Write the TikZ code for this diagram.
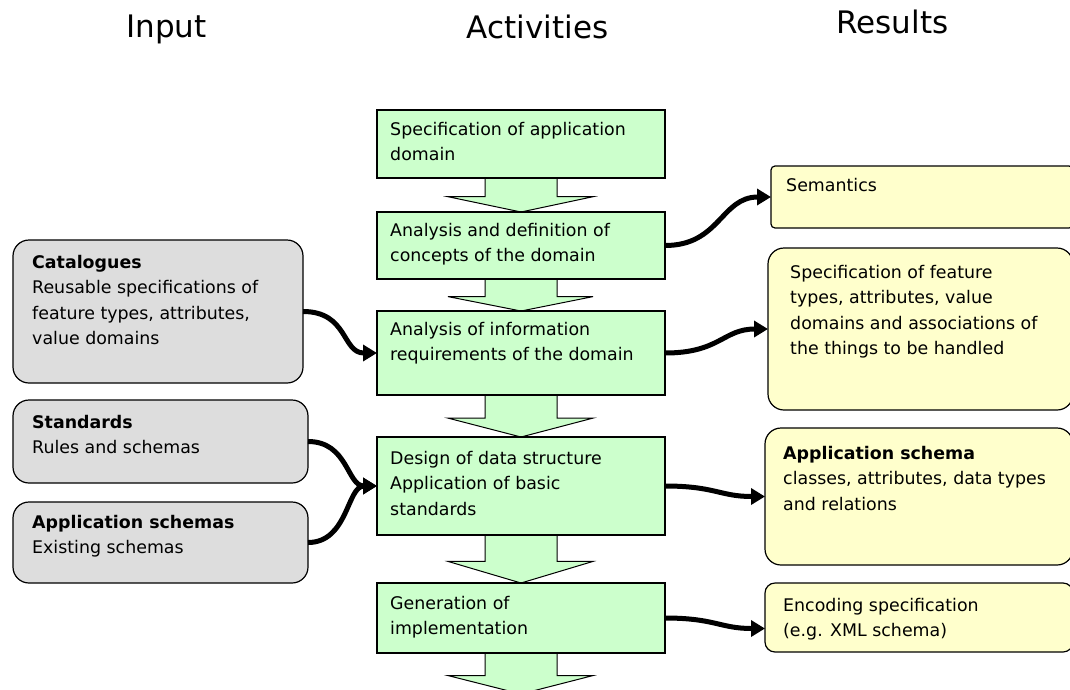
\documentclass[tikz,border=0pt]{standalone}
\usepackage{fontspec}
\setmainfont{DejaVu Sans}
\usetikzlibrary{arrows.meta,calc}
\definecolor{actgreen}{HTML}{CCFFCC}
\definecolor{ingray}{HTML}{DDDDDD}
\definecolor{resyellow}{HTML}{FFFFCC}
\pgfdeclarelayer{bg}
\pgfsetlayers{bg,main}
\tikzset{
  boxbase/.style={draw=black, line width=1.2pt, anchor=north west, inner sep=0pt, outer sep=0pt},
  actbox/.style={boxbase, fill=actgreen, minimum width=288pt},
  inbox/.style={boxbase, fill=ingray, rounded corners=16pt},
  resbox/.style={boxbase, fill=resyellow, rounded corners=16pt},
  txt/.style={anchor=north west, inner sep=0pt, align=left, font=\fontsize{17.4}{25.5}\selectfont},
  hdr/.style={anchor=base, inner sep=0pt, font=\fontsize{31}{36}\selectfont},
  flow/.style={line width=5pt, -{Triangle[length=14pt,width=16pt]}},
  barrow/.style={draw=black, line width=1pt, fill=actgreen, line join=miter},
}
\newcommand\blockarr[2]{%
  \path[barrow] let \p1=(#1.south), \p2=(#2), \p3=($(#1.south)!0.55!(#2)$) in
    (\x1-36pt,\y1+2pt) -- (\x1-36pt,\y3) -- (\x1-73pt,\y3) -- (\x2,\y2)
    -- (\x1+72pt,\y3) -- (\x1+36pt,\y3) -- (\x1+36pt,\y1+2pt) -- cycle;}
\begin{document}
\begin{tikzpicture}[x=1pt,y=-1pt]
\useasboundingbox (0,0) rectangle (1070,689);
\clip (0,0) rectangle (1070,689);

% headers
\node[hdr] (hin) at (166.5,37) {Input};
\node[hdr] (hact) at (537.5,38) {Activities};
\node[hdr] (hres) at (892.5,33) {Results};

% activity boxes
\node[actbox, minimum height=68pt] (b1) at (377,110) {};
\node[actbox, minimum height=67pt] (b2) at (377,212) {};
\node[actbox, minimum height=84pt] (b3) at (377,311) {};
\node[actbox, minimum height=98pt] (b4) at (377,437) {};
\node[actbox, minimum height=70pt] (b5) at (377,583) {};
\coordinate (bend) at (521,694);

% block arrows
\begin{pgfonlayer}{bg}
\fill[white] (0,0) rectangle (1070,689);
\blockarr{b1}{b2.north}
\blockarr{b2}{b3.north}
\blockarr{b3}{b4.north}
\blockarr{b4}{b5.north}
\blockarr{b5}{bend}
\end{pgfonlayer}

% input boxes
\node[inbox, minimum width=290pt, minimum height=143pt] (cat) at (13,240) {};
\node[inbox, minimum width=295pt, minimum height=83pt] (std) at (13,400) {};
\node[inbox, minimum width=295pt, minimum height=81pt] (aps) at (13,502) {};

% result boxes
\node[resbox, rounded corners=4pt, minimum width=302pt, minimum height=62pt] (sem) at (771,166) {};
\node[resbox, minimum width=305pt, minimum height=162pt] (spec) at (768,248) {};
\node[resbox, minimum width=308pt, minimum height=137pt] (as) at (765,428) {};
\node[resbox, rounded corners=10pt, minimum width=308pt, minimum height=69pt] (enc) at (765,583) {};

% texts
\node[txt] (t1) at ($(b1.north west)+(13,12)$) {Specification of application\\domain};
\node[txt] (t2) at ($(b2.north west)+(13,11)$) {Analysis and definition of\\concepts of the domain};
\node[txt] (t3) at ($(b3.north west)+(13,11)$) {Analysis of information\\requirements of the domain};
\node[txt] (t4) at ($(b4.north west)+(13,14)$) {Design of data structure\\Application of basic\\standards};
\node[txt] (t5) at ($(b5.north west)+(13,13)$) {Generation of\\implementation};

\node[txt] (tc) at ($(cat.north west)+(19,15)$) {\textbf{Catalogues}\\Reusable specifications of\\feature types, attributes,\\value domains};
\node[txt] (ts) at ($(std.north west)+(19,15)$) {\textbf{Standards}\\Rules and schemas};
\node[txt] (ta) at ($(aps.north west)+(19,13)$) {\textbf{Application schemas}\\Existing schemas};

\node[txt] (tsem) at ($(sem.north west)+(15,12)$) {Semantics};
\node[txt] (tspec) at ($(spec.north west)+(22,17)$) {Specification of feature\\types, attributes, value\\domains and associations of\\the things to be handled};
\node[txt] (tas) at ($(as.north west)+(18,18)$) {\textbf{Application schema}\\classes, attributes, data types\\and relations};
\node[txt] (tenc) at ($(enc.north west)+(18,15)$) {Encoding specification\\(e.g. XML schema)};

% connectors
\draw[flow] (b2.east) .. controls +(55,0) and +(-50,0) .. (sem.west);
\draw[flow] (b3.east) .. controls +(55,0) and +(-45,0) .. (spec.west);
\draw[flow] (b4.east) .. controls +(50,0) and +(-45,0) .. (as.west);
\draw[flow] (b5.east) .. controls +(50,0) and +(-45,0) .. ($(enc.west)+(0,11)$);
\draw[flow] (cat.east) .. controls +(45,0) and +(-35,0) .. (b3.west);
\draw[flow] (std.east) .. controls +(40,0) and +(-30,0) .. (b4.west);
\draw[flow] (aps.east) .. controls +(40,0) and +(-30,0) .. (b4.west);
\end{tikzpicture}
\end{document}
